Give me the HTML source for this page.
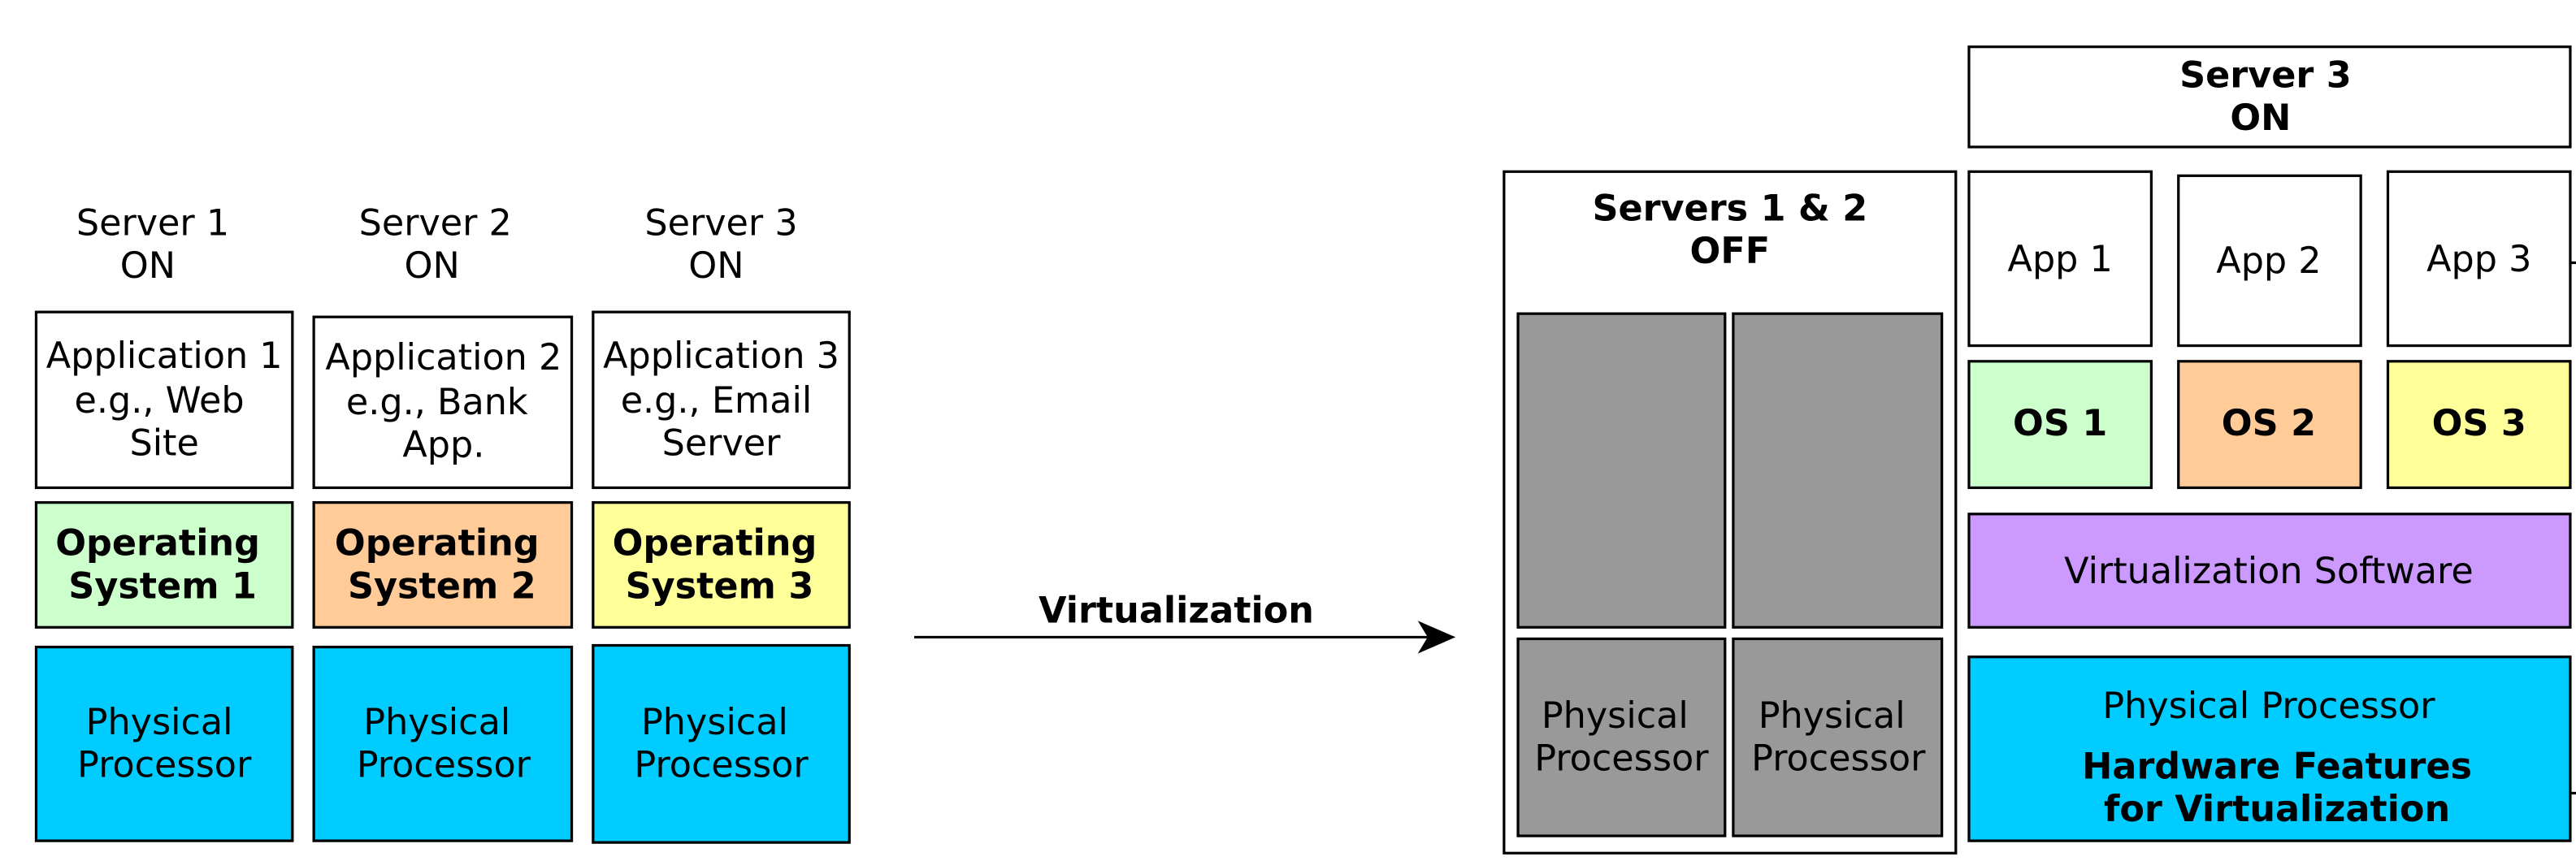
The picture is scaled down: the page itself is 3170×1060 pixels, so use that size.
<!DOCTYPE html>
<html><head><meta charset="utf-8"><style>
html,body{margin:0;padding:0;background:#fff;}
svg{display:block;}
text{font-family:"DejaVu Sans","Liberation Sans",sans-serif;font-size:22px;fill:#000;}
.b{font-weight:bold;}
</style></head><body>
<svg width="3170" height="1060" viewBox="0 0 1568 524.3" preserveAspectRatio="none" xmlns="http://www.w3.org/2000/svg">
<g stroke="#000" stroke-width="1.6">
<rect x="22" y="190" width="156" height="107" fill="#fff"/>
<rect x="22" y="306" width="156" height="76" fill="#ccffcc"/>
<rect x="22" y="394" width="156" height="118" fill="#00ccff"/>
<rect x="191" y="193" width="157" height="104" fill="#fff"/>
<rect x="191" y="306" width="157" height="76" fill="#ffcc99"/>
<rect x="191" y="394" width="157" height="118" fill="#00ccff"/>
<rect x="361" y="190" width="156" height="107" fill="#fff"/>
<rect x="361" y="306" width="156" height="76" fill="#ffff99"/>
<rect x="361" y="393" width="156" height="120" fill="#00ccff"/>

<rect x="915.5" y="104.5" width="275" height="415" fill="#fff"/>
<rect x="924" y="191" width="126" height="191" fill="#999"/>
<rect x="1055" y="191" width="127" height="191" fill="#999"/>
<rect x="924" y="389" width="126" height="120" fill="#999"/>
<rect x="1055" y="389" width="127" height="120" fill="#999"/>

<rect x="1198.5" y="28.5" width="366" height="61" fill="#fff"/>
<rect x="1198.5" y="104.5" width="111" height="106" fill="#fff"/>
<rect x="1326" y="107" width="111" height="103.5" fill="#fff"/>
<rect x="1453.5" y="104.5" width="111" height="106" fill="#fff"/>
<rect x="1198.5" y="220" width="111" height="77" fill="#ccffcc"/>
<rect x="1326" y="220" width="111" height="77" fill="#ffcc99"/>
<rect x="1453.5" y="220" width="111" height="77" fill="#ffff99"/>
<rect x="1198.5" y="313" width="366" height="69" fill="#cc99ff"/>
<rect x="1198.5" y="400" width="366" height="112" fill="#00ccff"/>
<line x1="1565" y1="160" x2="1568" y2="160"/>
<line x1="1565" y1="483" x2="1568" y2="483"/>
<line x1="556.5" y1="388" x2="872" y2="388"/>
</g>
<polygon points="886,388 863,378 869,388 863,398" fill="#000"/>

<g text-anchor="middle" dominant-baseline="central">
<text x="93" y="136">Server 1</text><text x="90" y="162">ON</text>
<text x="265" y="136">Server 2</text><text x="263" y="162">ON</text>
<text x="439" y="136">Server 3</text><text x="436" y="162">ON</text>

<text x="100" y="217">Application 1</text><text x="97" y="244">e.g., Web</text><text x="100" y="270">Site</text>
<text x="270" y="218">Application 2</text><text x="266" y="245">e.g., Bank</text><text x="270" y="271">App.</text>
<text x="439" y="217">Application 3</text><text x="436" y="244">e.g., Email</text><text x="439" y="270">Server</text>

<text class="b" x="96" y="331">Operating</text><text class="b" x="99" y="357">System 1</text>
<text class="b" x="266" y="331">Operating</text><text class="b" x="269" y="357">System 2</text>
<text class="b" x="435" y="331">Operating</text><text class="b" x="438" y="357">System 3</text>

<text x="97" y="440">Physical</text><text x="100" y="466">Processor</text>
<text x="266" y="440">Physical</text><text x="270" y="466">Processor</text>
<text x="435" y="440">Physical</text><text x="439" y="466">Processor</text>

<text class="b" x="716" y="372">Virtualization</text>

<text class="b" x="1053" y="127">Servers 1 &amp; 2</text><text class="b" x="1053" y="153">OFF</text>
<text x="983" y="436">Physical</text><text x="987" y="462">Processor</text>
<text x="1115" y="436">Physical</text><text x="1119" y="462">Processor</text>

<text class="b" x="1379" y="46">Server 3</text><text class="b" x="1376" y="72">ON</text>
<text x="1254" y="158">App 1</text><text x="1381" y="159">App 2</text><text x="1509" y="158">App 3</text>
<text class="b" x="1254" y="258">OS 1</text><text class="b" x="1381" y="258">OS 2</text><text class="b" x="1509" y="258">OS 3</text>
<text x="1381" y="348">Virtualization Software</text>
<text x="1381" y="430">Physical Processor</text>
<text class="b" x="1386" y="467">Hardware Features</text>
<text class="b" x="1386" y="493">for Virtualization</text>
</g>
</svg>
</body></html>
